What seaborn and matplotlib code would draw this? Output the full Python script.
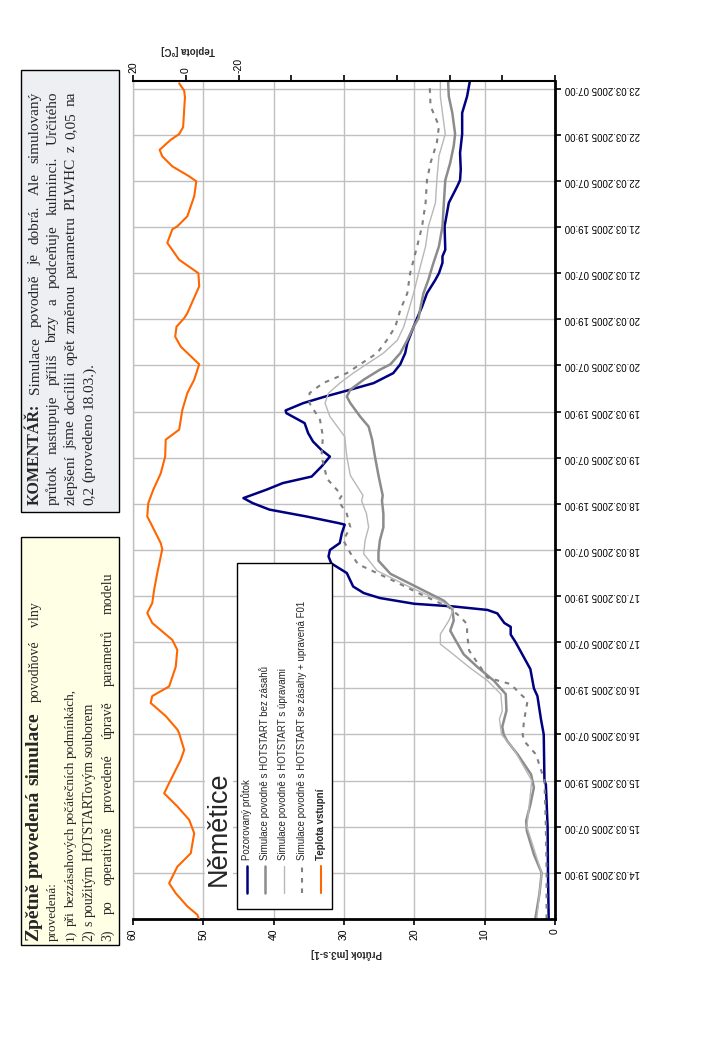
import matplotlib
matplotlib.use("Agg")
import matplotlib.pyplot as plt
from matplotlib.patches import Rectangle
from matplotlib.lines import Line2D
import seaborn as sns
import pandas as pd

# hodiny od 14.03.2005 07:00
obs_t = [0, 12, 24, 35, 36, 48, 52, 58, 60, 65, 72, 74, 76, 77, 79.5, 80.4, 81.3, 82, 83.5, 84.8,
         86.5, 90, 92.5, 94.3, 96, 97.8, 100.4, 102.6, 103, 104.7, 106.5, 108.2, 109.5, 111.7, 113.4,
         115.1, 117.7, 120.3, 122, 124.2, 126.4, 129, 131.6, 132.3, 134.2, 135.9, 137.7, 139.4, 142,
         144.3, 147.2, 149.8, 154.1, 156.3, 159.3, 162.8, 166.3, 168, 170.7, 172.4, 174.1, 180.2,
         186.3, 190.6, 192.2, 195, 199.3, 204.2, 209.7, 214, 218]
obs_q = [0.9, 1.0, 1.05, 1.3, 1.5, 1.6, 2.0, 2.5, 3.0, 3.5, 5.6, 6.3, 6.3, 7.2, 8.2, 9.6, 14.4, 20.0,
         24.9, 27.2, 28.7, 29.6, 31.8, 32.2, 32.0, 30.6, 30.3, 29.9, 30.8, 35.3, 40.6, 43.0, 44.3,
         41.0, 38.7, 34.6, 33.2, 32.0, 33.2, 34.4, 35.1, 35.6, 38.2, 38.3, 35.8, 32.7, 29.1, 25.8,
         23.0, 22.0, 21.3, 21.0, 20.1, 19.6, 18.9, 18.2, 17.0, 16.5, 16.0, 16.0, 15.6, 15.7, 15.1,
         13.9, 13.5, 13.4, 13.5, 13.2, 13.2, 12.5, 12.1]

sim1_t = [0, 6.7, 12, 16.8, 22.9, 25.5, 29.8, 34.2, 37.6, 42.8, 46.3, 48, 50, 54.2, 58.5, 62, 65.5,
          68.9, 72.4, 75, 77.6, 80.7, 82.8, 86.3, 89.8, 93.2, 95.2, 98.5, 101.9, 105.4, 108.8, 110.2,
          115.4, 120.3, 124.7, 128.1, 130.7, 134.2, 135.9, 137.7, 140.3, 142.9, 144.3, 147.2, 150.6,
          154.1, 156.3, 159.3, 162.8, 166.3, 170, 175, 180.2, 186.3, 192.2, 196.7, 201.1, 204.2,
          209.7, 214, 218]
sim1_q = [2.8, 2.2, 1.9, 3.0, 4.0, 4.1, 3.5, 3.0, 3.4, 5.3, 6.8, 7.3, 7.5, 6.9, 7.0, 8.7, 11.0, 13.0,
          14.1, 14.9, 14.4, 14.6, 15.8, 19.6, 23.4, 25.1, 25.1, 24.9, 24.4, 24.4, 24.6, 24.5, 25.1,
          25.6, 26.0, 26.5, 27.7, 29.1, 29.6, 29.1, 27.2, 24.9, 23.4, 22.0, 21.0, 20.1, 19.4, 19.1,
          18.7, 18.0, 17.4, 16.5, 16.0, 15.8, 15.6, 14.9, 14.4, 14.2, 14.6, 15.1, 15.2]

sim2_t = [0, 12, 24, 36, 44, 48, 52, 54.2, 58.5, 62, 65.5, 69.8, 71.5, 74.1, 77.6, 80.7, 82.8, 86.3,
          90.6, 95, 98.5, 101.9, 105.4, 108.8, 110.2, 115.4, 120.3, 125.5, 130.7, 134.2, 136.8,
          139.4, 142, 144.3, 147.2, 150.6, 154.1, 158.4, 162.8, 168, 171.5, 175, 180.2, 186.3, 192.2,
          198.5, 204.2, 209.7, 214, 218]
sim2_q = [2.6, 1.9, 4.0, 3.3, 5.8, 7.6, 7.9, 7.5, 7.7, 9.6, 12.2, 15.1, 16.3, 16.3, 15.1, 14.4, 16.3,
          20.6, 25.3, 27.2, 27.0, 26.5, 26.8, 27.5, 27.3, 29.1, 29.6, 29.9, 32.0, 32.7, 32.2, 30.6,
          28.7, 26.8, 24.4, 22.4, 21.5, 20.8, 20.1, 19.4, 18.9, 18.4, 18.0, 17.0, 16.8, 16.5, 15.6,
          16.0, 16.3, 16.3]

sim3_t = [0, 12, 24, 36, 42.8, 46.3, 48, 51.6, 56.8, 58.5, 61.1, 62.8, 65.5, 69.8, 74.1, 76.7, 78.5,
          81.1, 84.5, 88, 92.3, 95.2, 98.5, 101.9, 105.4, 108.8, 110.2, 114.5, 120.3, 125.5, 129.8,
          134.2, 136.8, 139.4, 142, 144.3, 147.2, 150.6, 154.1, 158.4, 162.8, 168, 171.5, 175, 180.2,
          186.3, 192.2, 196.7, 201.9, 206.3, 211.5, 216.3]
sim3_q = [1.2, 1.2, 1.3, 1.5, 2.7, 4.4, 4.6, 4.4, 3.9, 4.9, 6.3, 9.6, 10.6, 12.2, 12.5, 12.5, 13.4,
          15.1, 19.1, 23.0, 28.0, 29.1, 30.1, 29.1, 29.6, 30.8, 30.3, 32.4, 33.2, 33.0, 33.4, 34.9,
          34.9, 33.0, 29.6, 27.7, 25.3, 23.9, 22.7, 22.0, 21.0, 20.6, 20.1, 19.6, 18.9, 18.4, 18.2,
          17.7, 16.8, 16.5, 17.7, 17.8]

temp_t = [0, 1.1, 3.3, 6.7, 9.3, 13.6, 17.1, 22.3, 25.8, 29.3, 32.7, 36.2, 41.4, 44, 48.3, 49.3, 52.8,
          56.2, 58, 60.5, 65.6, 70, 72.6, 77, 79.6, 82.2, 85.6, 90, 96.2, 97.8, 100.4, 103, 104.7,
          108.2, 111.7, 115.9, 120.3, 124.7, 127.3, 132.4, 136.8, 140.3, 144.3, 148.9, 151.5, 154.1,
          156.3, 157.6, 164.6, 168, 171.5, 175.9, 179.4, 180.2, 182.8, 188, 191.9, 193.2, 195.8,
          198.4, 200.1, 202.7, 204.2, 206, 213.8, 215.5, 217.4]
temp_v = [-5.0, -4.4, -0.6, 3.8, 6.3, 3.2, -1.9, -3.2, -1.3, 3.2, 8.2, 5.7, 1.9, 0.6, 2.5, 3.2, 7.6,
          13.3, 12.7, 6.3, 3.8, 3.2, 5.1, 12.7, 14.6, 12.7, 12.0, 10.8, 8.9, 9.5, 11.4, 13.3, 14.6,
          14.2, 12.3, 9.5, 7.8, 7.6, 2.5, 1.3, -0.6, -3.2, -5.1, 1.9, 4.0, 3.5, 0.6, -0.6, -5.1, -4.8,
          2.5, 7.0, 5.1, 3.2, -0.6, -3.2, -4.0, -1.3, 5.1, 8.9, 9.9, 5.7, 2.5, 1.0, 0.3, 0.6, 2.5]

flow_ticks = [0, 10, 20, 30, 40, 50, 60]
temp_ticks = [20, 0, -20, -40, -60, -80, -100, -120, -140]
temp_labels = ["20", "0", "-20", "", "", "", "", "", ""]
time_ticks = list(range(12, 217, 12))
time_labels = pd.date_range("2005-03-14 19:00", periods=len(time_ticks), freq="12h").strftime("%d.%m.%Y %H:%M")

legend_labels = ["Pozorovaný průtok", "Simulace povodně s HOTSTART bez zásahů",
                 "Simulace povodně s HOTSTART s úpravami",
                 "Simulace povodně s HOTSTART se zásahy + upravená F01", "Teplota vstupní"]

sns.set_theme(style="white")
plt.rcParams["font.family"] = ["Liberation Sans", "DejaVu Sans"]

W, H = 720, 1040
fig = plt.figure(figsize=(W / 100, H / 100), dpi=100)
fig.patch.set_facecolor("white")


def fx(px):
    return px / W


def fy(py):
    return 1 - py / H


ax = fig.add_axes([fx(133), fy(919), (555 - 133) / W, (919 - 81) / H])
ax.set_facecolor("white")

styles = [
    dict(color="#000080", lw=1.8, ls="-"),
    dict(color="#8C8C8C", lw=1.8, ls="-"),
    dict(color="#B8B8B8", lw=1.0, ls="-"),
    dict(color="#808080", lw=1.5, ls=(0, (2.2, 2.8))),
    dict(color="#FF6600", lw=1.5, ls="-"),
]

for (qt, qv), st in zip([(obs_t, obs_q), (sim1_t, sim1_q), (sim2_t, sim2_q), (sim3_t, sim3_q)], styles):
    sns.lineplot(x=qv, y=qt, ax=ax, orient="y", sort=False, estimator=None,
                 color=st["color"], linewidth=st["lw"], linestyle=st["ls"])

ax.set_xlim(60, 0)
ax.set_ylim(0, 218)
ax.set_xticks(flow_ticks)
ax.set_xticklabels([str(v) for v in flow_ticks])
ax.set_yticks(time_ticks)
ax.set_yticklabels(time_labels)
ax.yaxis.tick_right()
ax.set_xlabel("")
ax.set_ylabel("")
ax.grid(True, color="#C0C0C0", lw=1)
ax.tick_params(axis="x", bottom=True, direction="out", length=4, width=1.2, colors="black",
               labelsize=7.5, labelrotation=90, pad=3)
ax.tick_params(axis="y", right=True, left=False, direction="out", length=4, width=1.2,
               colors="black", labelsize=7, labelrotation=180, pad=3)
for lbl in ax.get_yticklabels():
    lbl.set_va("center")
ax.spines["top"].set_visible(False)
ax.spines["left"].set_color("#C0C0C0")
ax.spines["left"].set_linewidth(1)
for s in ["bottom", "right"]:
    ax.spines[s].set_color("black")
    ax.spines[s].set_linewidth(2)

ax2 = ax.twiny()
st = styles[4]
sns.lineplot(x=temp_v, y=temp_t, ax=ax2, orient="y", sort=False, estimator=None,
             color=st["color"], linewidth=st["lw"])
ax2.set_xlim(20, -140)
ax2.set_ylim(0, 218)
ax2.set_xticks(temp_ticks)
ax2.set_xticklabels(temp_labels)
ax2.set_xlabel("")
ax2.set_ylabel("")
ax2.grid(False)
ax2.tick_params(axis="x", top=True, labeltop=True, bottom=False, labelbottom=False,
                direction="out", length=4, width=1.2, colors="black", labelsize=7.5,
                labelrotation=90, pad=2)
for s in ["bottom", "left", "right"]:
    ax2.spines[s].set_visible(False)
ax2.spines["top"].set_color("black")
ax2.spines["top"].set_linewidth(1.5)

# popisy os
fig.text(fx(347), fy(953), "Průtok [m3.s-1]", rotation=180, ha="center", va="center",
         fontsize=7, fontweight="bold")
fig.text(fx(188), fy(50), "Teplota [°C]", rotation=180, ha="center", va="center",
         fontsize=7, fontweight="bold")

# legenda
fig.add_artist(Rectangle((fx(237), fy(909)), (332 - 237) / W, (909 - 563) / H,
                         transform=fig.transFigure, facecolor="white", edgecolor="black", lw=1))
leg_x = [246.5, 265, 283.5, 302, 320.5]
for x, st, lab in zip(leg_x, styles, legend_labels):
    fig.add_artist(Line2D([fx(x), fx(x)], [fy(893), fy(866)], transform=fig.transFigure,
                          color=st["color"], lw=st["lw"], ls=st["ls"]))
    fig.text(fx(x), fy(860), lab, rotation=90, rotation_mode="anchor", ha="left", va="center",
             fontsize=7, fontweight="bold" if lab == "Teplota vstupní" else "normal")

fig.text(fx(219), fy(886), "Němětice", rotation=90, rotation_mode="anchor", ha="left",
         va="center", fontsize=19.5,
         bbox=dict(facecolor="white", edgecolor="none", pad=1))

# textove ramecky
fig.add_artist(Rectangle((fx(21), fy(945)), (119 - 21) / W, (945 - 537) / H,
                         transform=fig.transFigure, facecolor="#FFFFE6", edgecolor="black", lw=1))
fig.add_artist(Rectangle((fx(21), fy(512)), (119 - 21) / W, (512 - 70) / H,
                         transform=fig.transFigure, facecolor="#EDEFF2", edgecolor="black", lw=1))

renderer = fig.canvas.get_renderer()
serif = ["Liberation Serif", "DejaVu Serif"]


def width_of(s, **kw):
    t = fig.text(0, 0, s, **kw)
    w = t.get_window_extent(renderer).width
    t.remove()
    return w


def put_line(x, y0, parts, y1=None):
    words = []
    for txt, wt, size in parts:
        for w in txt.split():
            words.append((w, wt, size))
    widths = [width_of(w, family=serif, fontweight=wt, fontsize=sz) for w, wt, sz in words]
    sz0 = words[-1][2]
    gap = width_of("a a", family=serif, fontsize=sz0) - width_of("aa", family=serif, fontsize=sz0)
    if y1 is not None and len(words) > 1:
        gap = max(gap, ((y0 - y1) - sum(widths)) / (len(words) - 1))
    y = y0
    for (w, wt, sz), wd in zip(words, widths):
        fig.text(fx(x), fy(y), w, rotation=90, rotation_mode="anchor", ha="left", va="center",
                 family=serif, fontweight=wt, fontsize=sz)
        y -= wd + gap
    return y


y_end = put_line(34, 941, [("Zpětně provedená simulace", "bold", 14)])
put_line(35, y_end - 6, [("povodňové vlny", "normal", 10)], 602)
put_line(53, 941, [("provedená:", "normal", 9.5)])
put_line(71, 941, [("1) při bezzásahových počátečních podmínkách,", "normal", 9.5)])
put_line(89, 941, [("2) s použitým HOTSTARTovým souborem", "normal", 10)])
put_line(108, 941, [("3) po operativně provedené úpravě parametrů modelu", "normal", 10)], 573)

put_line(35, 505, [("KOMENTÁŘ:", "bold", 11.5), ("Simulace povodně je dobrá. Ale simulovaný", "normal", 11)], 92)
put_line(53, 505, [("průtok nastupuje příliš brzy a podceňuje kulminci. Určitého", "normal", 11)], 92)
put_line(71, 505, [("zlepšení jsme docílili opět změnou parametru PLWHC z 0,05 na", "normal", 11)], 92)
put_line(89, 505, [("0,2 (provedeno 18.03.).", "normal", 11)])

fig.savefig("out.png", dpi=100)
